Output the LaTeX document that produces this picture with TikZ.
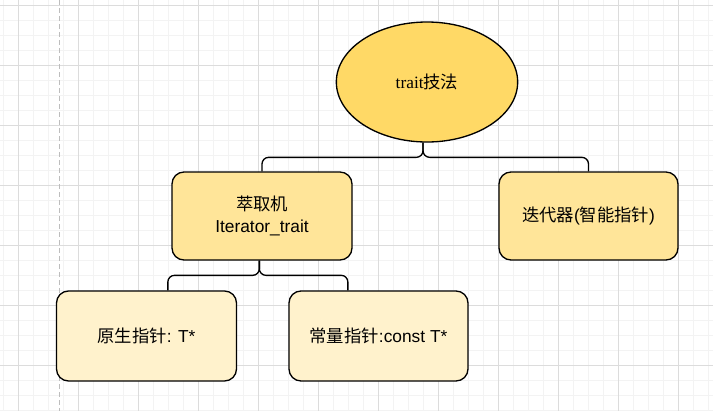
\documentclass[tikz,border=0pt]{standalone}
\usepackage{fontspec}
\setmainfont{Liberation Sans}
\newfontfamily\cjk{Noto Sans CJK SC}
\newfontfamily\serifface{Liberation Serif}
\usetikzlibrary{shapes.geometric}
\definecolor{gold}{HTML}{FFD966}
\definecolor{midfill}{HTML}{FFE599}
\definecolor{lowfill}{HTML}{FFF2CC}
\definecolor{minorgrid}{HTML}{F3F3F3}
\definecolor{majorgrid}{HTML}{DCDCDC}
\definecolor{guide}{HTML}{BDBDBD}
\begin{document}
\begin{tikzpicture}[x=0.75pt,y=-0.75pt,
  txt/.style={font=\fontsize{13}{16}\selectfont},
  box/.style={draw=black,line width=1pt,rounded corners=9pt,minimum width=135pt,
    minimum height=66pt,inner sep=0pt,align=center,txt},
  midbox/.style={box,fill=midfill},
  lowbox/.style={box,fill=lowfill,minimum height=67.5pt},
  rootshape/.style={ellipse,draw=black,line width=1pt,fill=gold,inner sep=0pt,
    minimum width=136pt,minimum height=90pt,txt},
  brace/.style={draw=black,line width=1pt,rounded corners=5pt},
  minorline/.style={draw=minorgrid,line width=0.75pt},
  majorline/.style={draw=majorgrid,line width=0.75pt}]
\fill[white] (0,0) rectangle (713,411);
\useasboundingbox (0,0) rectangle (713,411);
% grid
\foreach \k in {0,...,47} {\draw[minorline] (3+15*\k,0) -- (3+15*\k,411);}
\foreach \k in {0,...,27} {\draw[minorline] (0,5+15*\k) -- (713,5+15*\k);}
\foreach \k in {0,...,11} {\draw[majorline] (18+60*\k,0) -- (18+60*\k,411);}
\foreach \k in {0,...,6} {\draw[majorline] (0,5+60*\k) -- (713,5+60*\k);}
% guide
\coordinate (gtop) at (59,0);
\coordinate (gbot) at (59,411);
\draw[guide,line width=0.75pt,dash pattern=on 3.5pt off 2.5pt] (gtop) -- (gbot);
% nodes
\node[rootshape] (e) at (427,82) {{\serifface trait}{\cjk 技法}};
\node[midbox] (b1) at (262,216) {{\cjk 萃取机}\\Iterator\_trait};
\node[midbox,minimum width=134.25pt] (b2) at (588.5,216) {{\cjk 迭代器}({\cjk 智能指针})};
\node[lowbox] (c1) at (146.5,336) {{\cjk 原生指针}: T*};
\node[lowbox,minimum width=134.25pt] (c2) at (378.5,336) {{\cjk 常量指针}:const T*};
% connectors
\draw[brace] ([xshift=-3pt]e.south) |- ([yshift=10.5pt]b1.north) -- (b1.north);
\draw[brace] ([xshift=-3pt]e.south) |- ([yshift=10.5pt]b2.north) -- (b2.north);
\draw[brace] ([xshift=-2pt]b1.south) |- ([xshift=16pt,yshift=11.25pt]c1.north) -- ([xshift=16pt]c1.north);
\draw[brace] ([xshift=-2pt]b1.south) |- ([xshift=-23pt,yshift=11.25pt]c2.north) -- ([xshift=-23pt]c2.north);
\end{tikzpicture}
\end{document}
